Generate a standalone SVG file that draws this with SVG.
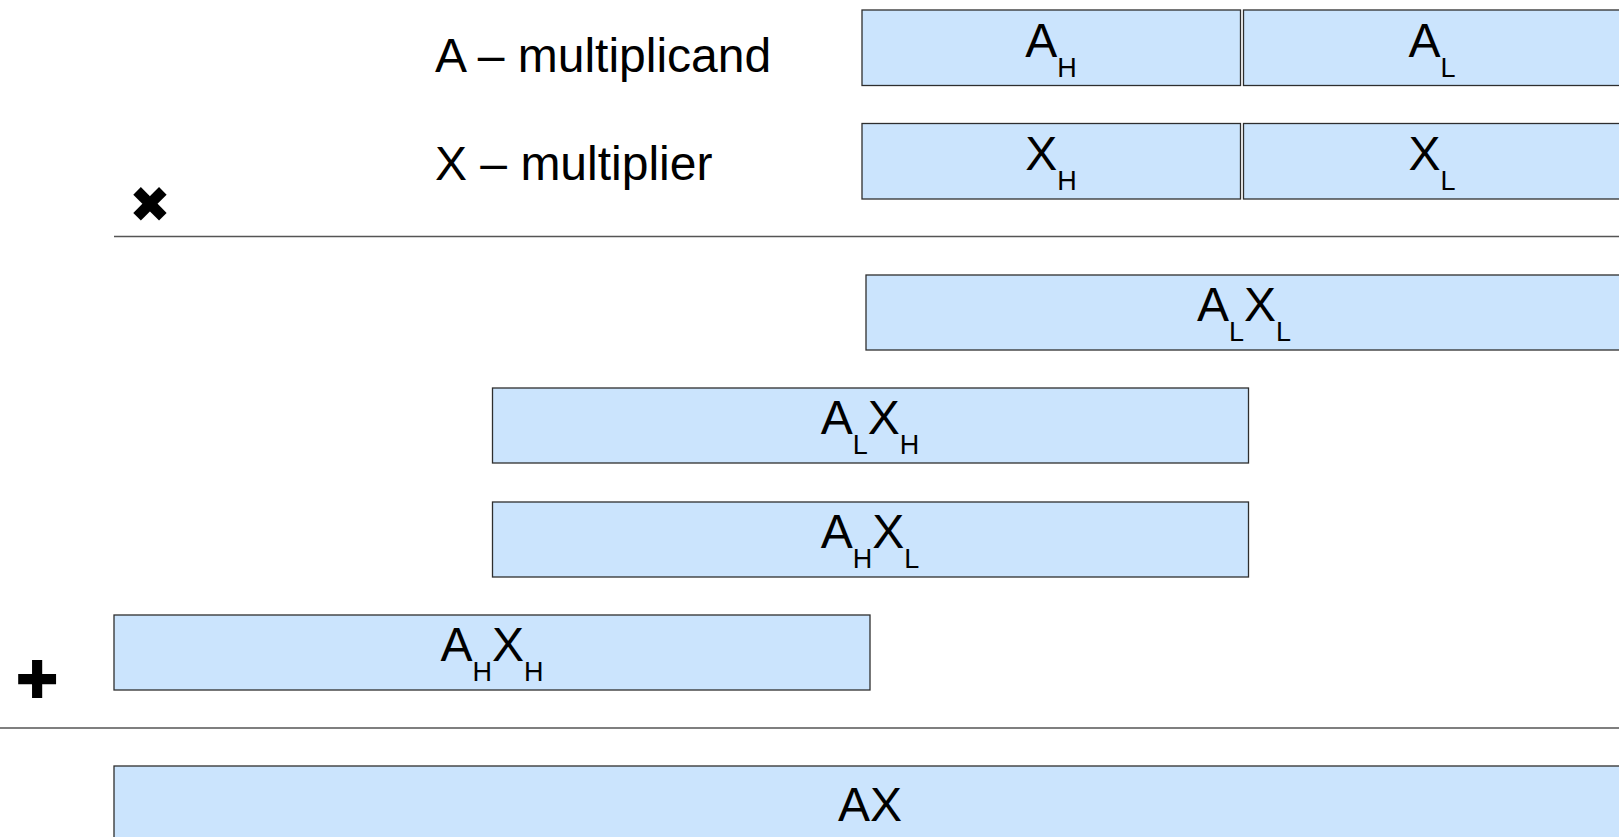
<svg xmlns="http://www.w3.org/2000/svg" width="1619" height="837" viewBox="0 0 1619 837">
  <style>
    .box { fill: #cbe4fd; stroke: #2e2e2e; stroke-width: 1.3; }
    .lbl { font-family: "Liberation Sans", Arial, sans-serif; font-size: 48px; fill: #000000; }
    .val { font-family: "Liberation Sans", Arial, sans-serif; font-size: 48px; fill: #000000; text-anchor: middle; }
    .sub { font-size: 27px; }
    .rule { stroke: #555555; stroke-width: 1.5; fill: none; }
    .op { font-family: "DejaVu Sans", sans-serif; fill: #000000; text-anchor: middle; }
  </style>

  <!-- operand labels -->
  <text class="lbl" x="435" y="72">A – multiplicand</text>
  <text class="lbl" x="435" y="180">X – multiplier</text>

  <!-- operand halves -->
  <g id="a-high">
    <rect class="box" x="862" y="10" width="378.5" height="75.5"/>
    <text class="val" x="1051" y="57">A<tspan class="sub" dy="20">H</tspan></text>
  </g>
  <g id="a-low">
    <rect class="box" x="1243.5" y="10" width="378.5" height="75.5"/>
    <text class="val" x="1432" y="57">A<tspan class="sub" dy="20">L</tspan></text>
  </g>
  <g id="x-high">
    <rect class="box" x="862" y="123.5" width="378.5" height="75.5"/>
    <text class="val" x="1051" y="170">X<tspan class="sub" dy="20">H</tspan></text>
  </g>
  <g id="x-low">
    <rect class="box" x="1243.5" y="123.5" width="378.5" height="75.5"/>
    <text class="val" x="1432" y="170">X<tspan class="sub" dy="20">L</tspan></text>
  </g>

  <!-- operators and rules -->
  <text class="op" x="150" y="222" font-size="50">✖</text>
  <text class="op" x="37" y="698" font-size="52">✚</text>
  <g id="rules">
    <line class="rule" x1="114" y1="236.5" x2="1619" y2="236.5"/>
    <line class="rule" x1="0" y1="728" x2="1619" y2="728"/>
  </g>

  <!-- partial products -->
  <g id="al-xl">
    <rect class="box" x="866" y="275" width="756" height="75"/>
    <text class="val" x="1244" y="321">A<tspan class="sub" dy="20">L</tspan><tspan dy="-20">X</tspan><tspan class="sub" dy="20">L</tspan></text>
  </g>
  <g id="al-xh">
    <rect class="box" x="492.5" y="388" width="756" height="75"/>
    <text class="val" x="870" y="434">A<tspan class="sub" dy="20">L</tspan><tspan dy="-20">X</tspan><tspan class="sub" dy="20">H</tspan></text>
  </g>
  <g id="ah-xl">
    <rect class="box" x="492.5" y="502" width="756" height="75"/>
    <text class="val" x="870" y="548">A<tspan class="sub" dy="20">H</tspan><tspan dy="-20">X</tspan><tspan class="sub" dy="20">L</tspan></text>
  </g>
  <g id="ah-xh">
    <rect class="box" x="114" y="615" width="756" height="75"/>
    <text class="val" x="492" y="661">A<tspan class="sub" dy="20">H</tspan><tspan dy="-20">X</tspan><tspan class="sub" dy="20">H</tspan></text>
  </g>

  <!-- full product -->
  <g id="ax">
    <rect class="box" x="114" y="766" width="1512" height="80"/>
    <text class="val" x="870" y="821">AX</text>
  </g>
</svg>
